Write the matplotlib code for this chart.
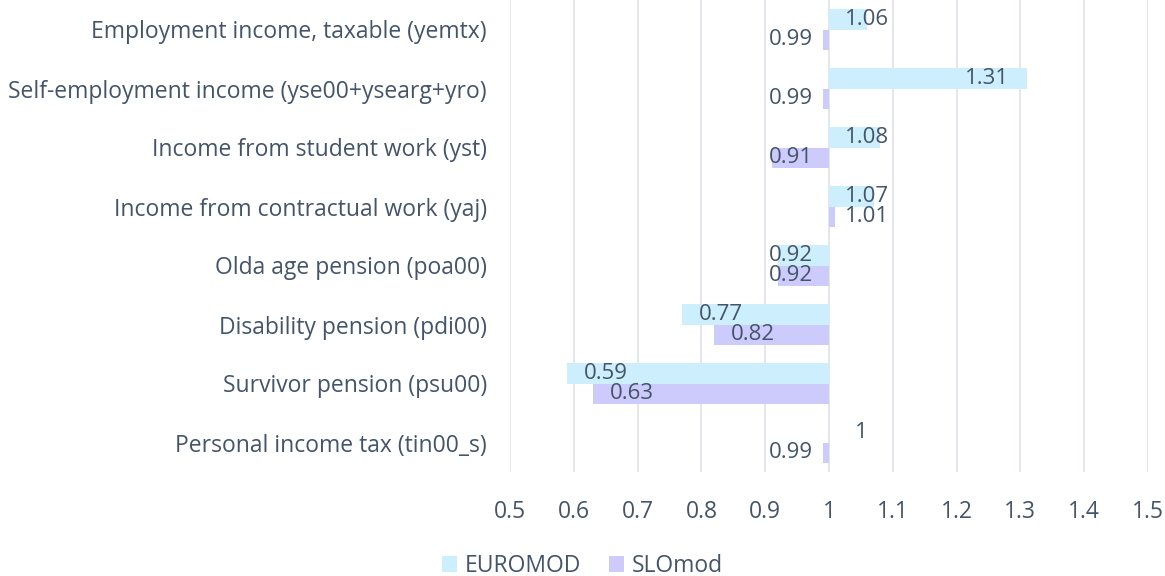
import matplotlib
matplotlib.use("Agg")
import matplotlib.pyplot as plt
import numpy as np

categories = [
    "Employment income, taxable (yemtx)",
    "Self-employment income (yse00+ysearg+yro)",
    "Income from student work (yst)",
    "Income from contractual work (yaj)",
    "Olda age pension (poa00)",
    "Disability pension (pdi00)",
    "Survivor pension (psu00)",
    "Personal income tax (tin00_s)",
]
euromod = [1.06, 1.31, 1.08, 1.07, 0.92, 0.77, 0.59, 1.00]
slomod = [0.99, 0.99, 0.91, 1.01, 0.92, 0.82, 0.63, 0.99]
series_names = ["EUROMOD", "SLOmod"]
xticks = [0.5, 0.6, 0.7, 0.8, 0.9, 1.0, 1.1, 1.2, 1.3, 1.4, 1.5]
xtick_labels = ["0.5", "0.6", "0.7", "0.8", "0.9", "1", "1.1", "1.2", "1.3", "1.4", "1.5"]

colors = ["#cdeefc", "#cdcbfb"]
text_color = "#44546a"
grid_color = "#e1e5ec"
FONT = "Open Sans"
FS = 16.5
FS_LAB = 16

plt.rcParams['font.family'] = [FONT, 'DejaVu Sans']

fig = plt.figure(figsize=(11.65, 5.76), dpi=100)
ax = fig.add_axes([510 / 1165, 1 - 472 / 576, (1148 - 510) / 1165, 472 / 576])

n = len(categories)
y = np.arange(n)
bh = 0.34
base = 1.0

for si, (vals, col) in enumerate(zip([euromod, slomod], colors)):
    offs = -bh / 2 if si == 0 else bh / 2
    yy = y + offs
    ax.barh(yy, np.array(vals) - base, left=base, height=bh, color=col,
            label=series_names[si], zorder=2)
    for yi, v in zip(yy, vals):
        lab = f"{v:g}"
        if v > base:
            ax.text(max(v - 0.028, 1.094), yi, lab, ha="right", va="center",
                    fontsize=FS_LAB, color=text_color, zorder=3)
        elif v == base:
            ax.text(1.04, yi, lab, ha="left", va="center",
                    fontsize=FS_LAB, color=text_color, zorder=3)
        else:
            ax.text(min(v + 0.095, 0.975), yi, lab, ha="right", va="center",
                    fontsize=FS_LAB, color=text_color, zorder=3)

ax.set_ylim(n - 0.5, -0.5)
ax.set_xlim(0.5, 1.5)
ax.set_yticks(y)
ax.set_yticklabels(categories, fontsize=FS, color=text_color)
ax.set_xticks(xticks)
ax.set_xticklabels(xtick_labels, fontsize=FS, color=text_color)
ax.tick_params(axis="y", length=0, pad=16.5)
ax.tick_params(axis="x", length=0, pad=20)
for s in ax.spines.values():
    s.set_visible(False)
ax.grid(axis="x", color=grid_color, linewidth=1.3, zorder=0)
ax.set_axisbelow(True)

leg = fig.legend(loc="center", bbox_to_anchor=(0.5, 1 - 566 / 576), ncol=2,
                 frameon=False, fontsize=FS, handlelength=0.65, handleheight=0.65,
                 handletextpad=0.35, columnspacing=1.18, labelcolor=text_color,
                 borderpad=0)

fig.savefig("out.png", dpi=100)
